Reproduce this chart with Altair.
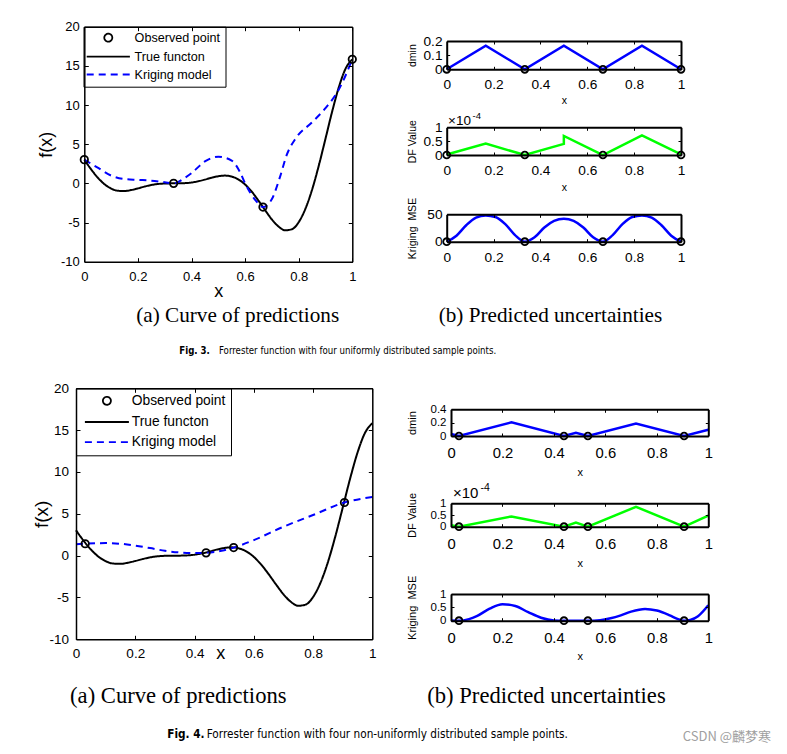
import altair as alt
import pandas as pd

W, H = 771, 738
SANS = "Liberation Sans, Arial, Helvetica, sans-serif"
SERIF = "Liberation Serif, Times New Roman, serif"
NARROW = "Liberation Sans Narrow, DejaVu Sans Condensed, Roboto Condensed, Liberation Sans, sans-serif"
CJK = "Noto Sans CJK SC, sans-serif"

# ---------------- data ----------------
SERIES = ["Observed point", "True functon", "Kriging model"]

TRUE_X = [0.0, 0.025, 0.05, 0.075, 0.1, 0.125, 0.15, 0.175, 0.2, 0.225, 0.25, 0.275,
          0.3, 0.325, 0.35, 0.375, 0.4, 0.425, 0.45, 0.475, 0.5, 0.525, 0.55, 0.575,
          0.6, 0.625, 0.65, 0.675, 0.7, 0.725, 0.75, 0.775, 0.8, 0.825, 0.85, 0.875,
          0.9, 0.925, 0.95, 0.975, 1.0]
TRUE_Y = [3.03, 1.81, 0.74, -0.10, -0.66, -0.94, -0.98, -0.85, -0.64, -0.41, -0.21, -0.08,
          -0.02, 0.00, 0.00, 0.03, 0.11, 0.27, 0.48, 0.72, 0.91, 0.99, 0.87, 0.50,
          -0.15, -1.07, -2.21, -3.44, -4.61, -5.52, -5.99, -5.85, -4.95, -3.25, -0.80, 2.27,
          5.71, 9.19, 12.30, 14.65, 15.83]

KRIG3_X = [0.0, 0.05, 0.1, 0.15, 0.2, 0.25, 0.3, 0.3333, 0.375, 0.4, 0.45, 0.5, 0.55,
           0.58, 0.6, 0.64, 0.6667, 0.7, 0.73, 0.755, 0.79, 0.85, 0.9, 0.95, 1.0]
KRIG3_Y = [3.03, 2.0, 1.0, 0.55, 0.45, 0.35, 0.15, 0.0, 0.7, 1.3, 2.8, 3.4, 2.9,
           1.5, 0.0, -2.2, -3.03, -2.0, 0.8, 3.6, 5.8, 7.8, 9.6, 12.0, 15.83]
PTS3_X = [0.0, 0.3333, 0.6667, 1.0]
PTS3_Y = [3.03, 0.0, -3.03, 15.83]

KRIG4_X = [0.0, 0.031, 0.1, 0.15, 0.2, 0.25, 0.3, 0.35, 0.4, 0.439, 0.5, 0.532,
           0.6, 0.7, 0.8, 0.906, 1.0]
KRIG4_Y = [1.36, 1.42, 1.5, 1.42, 1.2, 0.9, 0.58, 0.38, 0.3, 0.33, 0.65, 0.96,
           1.85, 3.45, 4.85, 6.35, 7.0]
PTS4_X = [0.031, 0.439, 0.532, 0.906]
PTS4_Y = [1.42, 0.33, 0.96, 6.35]

DMIN3_X = [0.0, 0.1667, 0.3333, 0.5, 0.6667, 0.8333, 1.0]
DMIN3_Y = [0.0, 0.1667, 0.0, 0.1667, 0.0, 0.1667, 0.0]
DF3_X = [0.0, 0.1667, 0.3333, 0.5, 0.5, 0.6667, 0.8333, 1.0]
DF3_Y = [0.02, 0.41, 0.0, 0.40, 0.69, 0.0, 0.71, 0.02]
MSE3_X = [0.0, 0.0417, 0.0833, 0.125, 0.1667, 0.2083, 0.25, 0.2917, 0.3333,
          0.375, 0.4167, 0.4583, 0.5, 0.5417, 0.5833, 0.625, 0.6667,
          0.7083, 0.75, 0.7917, 0.8333, 0.875, 0.9167, 0.9583, 1.0]
MSE3_Y = [0, 11, 30, 44, 48, 45, 32, 12, 0,
          8, 26, 38, 42, 38, 26, 8, 0,
          12, 32, 45, 48, 44, 30, 11, 0]
SAMP3_X = [0.0, 0.3333, 0.6667, 1.0]

DMIN4_X = [0.0, 0.031, 0.235, 0.439, 0.4855, 0.532, 0.719, 0.906, 1.0]
DMIN4_Y = [0.031, 0.0, 0.204, 0.0, 0.047, 0.0, 0.187, 0.0, 0.094]
DF4_Y = [0.06, 0.0, 0.44, 0.0, 0.18, 0.0, 0.85, 0.0, 0.47]
MSE4_X = [0.0, 0.031, 0.07, 0.1, 0.15, 0.2, 0.25, 0.3, 0.35, 0.4, 0.439, 0.4855,
          0.532, 0.58, 0.62, 0.66, 0.7, 0.754, 0.8, 0.85, 0.88, 0.906, 0.93, 0.96, 1.0]
MSE4_Y = [0.01, 0.0, 0.06, 0.17, 0.45, 0.62, 0.55, 0.32, 0.11, 0.01, 0.0, 0.002,
          0.0, 0.02, 0.09, 0.2, 0.34, 0.44, 0.38, 0.2, 0.07, 0.0, 0.03, 0.17, 0.58]
SAMP4_X = [0.031, 0.439, 0.532, 0.906]

X_TICKS = [0, 0.2, 0.4, 0.6, 0.8, 1]
MAIN_Y_TICKS = [-10, -5, 0, 5, 10, 15, 20]

CAPTIONS = ["(a) Curve of predictions", "(b) Predicted uncertainties"]
FIG_LABELS = ["Fig. 3.", "Fig. 4."]
FIG_TEXTS = ["Forrester function with four uniformly distributed sample points.",
             "Forrester function with four non-uniformly distributed sample points."]
WATERMARK = "CSDN @麟梦寒"
Y_TITLES = ["dmin", "DF Value", "Kriging\u00a0\u00a0MSE"]

LE = "'' + datum.value"


def axes(box, xvals, yvals, st):
    x0, x1, y0, y1 = box
    common = dict(grid=False, zindex=1, labelFlush=False, labelOverlap=False,
                  domainColor="black", tickColor="black", labelColor="black",
                  labelFont=SANS, titleFont=SANS, titleColor="black",
                  titleFontWeight="normal")
    def c(vals):
        d = dict(common)
        d["values"] = vals
        return d
    if st.get("xt"):
        xtk = dict(title=st["xt"], titleX=st["xtx"], titleY=st["xty"],
                   titleFontSize=st["xts"], titleBaseline="middle", titleAlign="center")
    else:
        xtk = dict(title=None)
    if st.get("yt"):
        ytk = dict(title=st["yt"], titleX=st["ytx"], titleY=(y0 + y1) / 2,
                   titleFontSize=st["yts"], titleBaseline="middle", titleAlign="center")
    else:
        ytk = dict(title=None)
    ax1 = alt.Axis(orient="bottom", offset=y1 - H, labelExpr=LE, labelFontSize=st["lab"],
                   labelPadding=st["xpad"], ticks=False, tickSize=0, domain=True,
                   domainWidth=st["dw"], **xtk, **c(xvals))
    ay1 = alt.Axis(orient="left", offset=-x0, labelExpr=LE,
                   labelFontSize=st.get("ylab", st["lab"]),
                   labelPadding=st["ypad"], ticks=False, tickSize=0, domain=True,
                   domainWidth=st["dw"], **ytk, **c(yvals))
    ax2 = alt.Axis(orient="top", offset=-y1, labels=False, domain=False, ticks=True,
                   tickSize=st["tick"], tickWidth=st["tw"], title=None, **c(xvals))
    ay2 = alt.Axis(orient="right", offset=x0 - W, labels=False, domain=False, ticks=True,
                   tickSize=st["tick"], tickWidth=st["tw"], title=None, **c(yvals))
    ax3 = alt.Axis(orient="bottom", offset=y0 - H, labels=False, domain=True,
                   domainWidth=st["dw"], ticks=True, tickSize=st["tick"], tickWidth=st["tw"],
                   title=None, **c(xvals))
    ay3 = alt.Axis(orient="left", offset=-x1, labels=False, domain=True,
                   domainWidth=st["dw"], ticks=True, tickSize=st["tick"], tickWidth=st["tw"],
                   title=None, **c(yvals))
    return (ax1, ay1), (ax2, ay2), (ax3, ay3)


def main_panel(box, kx, ky, px, py, st, leg, path):
    x0, x1, y0, y1 = box
    xs = alt.Scale(domain=[0, 1], range=[x0, x1], nice=False, zero=False)
    ys = alt.Scale(domain=[-10, 20], range=[y1, y0], nice=False, zero=False)
    cs = alt.Scale(domain=SERIES, range=["black", "black", "#0000ff"])
    ds = alt.Scale(domain=SERIES, range=[[1, 0], [1, 0], [7, 5]])
    ss = alt.Scale(domain=SERIES, range=["circle", path, path])
    (ax1, ay1), (ax2, ay2), (ax3, ay3) = axes(box, X_TICKS, MAIN_Y_TICKS, st)
    tdf = pd.DataFrame({"x": TRUE_X, "y": TRUE_Y, "i": range(len(TRUE_X)), "series": SERIES[1]})
    kdf = pd.DataFrame({"x": kx, "y": ky, "i": range(len(kx)), "series": SERIES[2]})
    pdf = pd.DataFrame({"x": px, "y": py, "series": SERIES[0]})
    l1 = alt.Chart(tdf).mark_line(strokeWidth=2, interpolate="monotone").encode(
        x=alt.X("x:Q", scale=xs, axis=ax1), y=alt.Y("y:Q", scale=ys, axis=ay1),
        color=alt.Color("series:N", scale=cs, legend=leg),
        strokeDash=alt.StrokeDash("series:N", scale=ds, legend=leg),
        order="i:Q")
    l2 = alt.Chart(kdf).mark_line(strokeWidth=2, interpolate="monotone").encode(
        x=alt.X("x:Q", scale=xs, axis=ax2), y=alt.Y("y:Q", scale=ys, axis=ay2),
        color=alt.Color("series:N", scale=cs, legend=leg),
        strokeDash=alt.StrokeDash("series:N", scale=ds, legend=leg),
        order="i:Q")
    l3 = alt.Chart(pdf).mark_point(filled=False, size=55, strokeWidth=1.8, opacity=1).encode(
        x=alt.X("x:Q", scale=xs, axis=ax3), y=alt.Y("y:Q", scale=ys, axis=ay3),
        color=alt.Color("series:N", scale=cs, legend=leg),
        shape=alt.Shape("series:N", scale=ss, legend=leg))
    return alt.layer(l1, l2, l3).resolve_axis(x="independent", y="independent")


def small_panel(box, lx, ly, sx, ydom, yvals, color, st, smooth=False):
    x0, x1, y0, y1 = box
    xs = alt.Scale(domain=[0, 1], range=[x0, x1], nice=False, zero=False)
    ys = alt.Scale(domain=ydom, range=[y1, y0], nice=False, zero=False)
    (ax1, ay1), (ax2, ay2), (ax3, ay3) = axes(box, X_TICKS, yvals, st)
    ldf = pd.DataFrame({"x": lx, "y": ly, "i": range(len(lx))})
    sdf = pd.DataFrame({"x": sx, "y": [0.0] * len(sx)})
    l1 = alt.Chart(ldf).mark_line(strokeWidth=2.5, color=color,
                                  interpolate="monotone" if smooth else "linear").encode(
        x=alt.X("x:Q", scale=xs, axis=ax1), y=alt.Y("y:Q", scale=ys, axis=ay1), order="i:Q")
    l2 = alt.Chart(sdf).mark_point(filled=False, size=48, strokeWidth=1.8, color="black",
                                   opacity=1).encode(
        x=alt.X("x:Q", scale=xs, axis=ax2), y=alt.Y("y:Q", scale=ys, axis=ay2))
    l3 = alt.Chart(sdf).mark_point(opacity=0).encode(
        x=alt.X("x:Q", scale=xs, axis=ax3), y=alt.Y("y:Q", scale=ys, axis=ay3))
    return alt.layer(l1, l2, l3).resolve_axis(x="independent", y="independent")


def text(s, x, y, size, font, weight="normal", align="left", color="black"):
    return alt.Chart(pd.DataFrame({"t": [s]})).mark_text(
        font=font, fontSize=size, fontWeight=weight, align=align, baseline="middle",
        color=color).encode(x=alt.value(x), y=alt.value(y), text="t:N")


# ---------------- layout boxes (x0, x1, y0, y1) ----------------
B3M = (76.3, 344.3, 18.7, 253.7)
B3A = (438.7, 673.0, 33.0, 61.3)
B3B = (438.7, 673.0, 119.3, 147.0)
B3C = (438.7, 673.0, 206.3, 233.7)
B4M = (68.0, 364.3, 380.3, 631.3)
B4A = (443.0, 700.3, 401.3, 428.0)
B4B = (443.0, 700.3, 495.3, 518.7)
B4C = (443.0, 700.3, 586.0, 612.7)

st3m = dict(lab=13, xpad=9, ypad=5, tick=4, tw=1, dw=1.5,
            xt="x", xtx=(B3M[0] + B3M[1]) / 2, xty=30, xts=18,
            yt="f(x)", ytx=-38, yts=18)
st4m = dict(lab=13.5, xpad=7, ypad=7.5, tick=4, tw=1, dw=1.5,
            xt="x", xtx=212.3, xty=14, xts=18,
            yt="f(x)", ytx=-35, yts=19)

leg3 = alt.Legend(orient="none", legendX=75.5, legendY=18.7, title=None,
                  strokeColor="black", fillColor="white", padding=4.7, rowPadding=4.9,
                  symbolSize=64, symbolStrokeWidth=1.8, symbolOffset=13.8, labelOffset=20,
                  labelFont=SANS, labelFontSize=12.6, labelColor="black")
leg4 = alt.Legend(orient="none", legendX=68, legendY=380.3, title=None,
                  strokeColor="black", fillColor="white", padding=5.6, rowPadding=5.2,
                  symbolSize=64, symbolStrokeWidth=1.8, symbolOffset=18.4, labelOffset=18,
                  labelFont=SANS, labelFontSize=13.8, labelColor="black")


def sst(yt, xt, lab, xpad, ypad, ytx, xty, xtx, ts, ylab=None):
    d = dict(lab=lab, xpad=xpad, ypad=ypad, tick=3, tw=1, dw=2,
             yt=yt, ytx=ytx, yts=ts)
    if ylab:
        d["ylab"] = ylab
    if xt:
        d.update(xt="x", xtx=xtx, xty=xty, xts=ts)
    return d


c3 = (B3A[0] + B3A[1]) / 2
c4 = (B4A[0] + B4A[1]) / 2

panels = [
    main_panel(B3M, KRIG3_X, KRIG3_Y, PTS3_X, PTS3_Y, st3m, leg3, "M-5.4,0L5.4,0"),
    small_panel(B3A, DMIN3_X, DMIN3_Y, SAMP3_X, [0, 0.2], [0, 0.1, 0.2], "#0000ff",
                sst(Y_TITLES[0], True, 13.7, 8.5, 4.7, -34, 31.4, c3, 10.5)),
    small_panel(B3B, DF3_X, DF3_Y, SAMP3_X, [0, 1], [0, 0.5, 1], "#00ff00",
                sst(Y_TITLES[1], True, 13.7, 8.5, 4.7, -34, 32.7, c3, 10.5)),
    small_panel(B3C, MSE3_X, MSE3_Y, SAMP3_X, [0, 50], [0, 50], "#0000ff",
                sst(Y_TITLES[2], False, 13.7, 8.5, 4.7, -34, 0, c3, 10.5), smooth=True),
    main_panel(B4M, KRIG4_X, KRIG4_Y, PTS4_X, PTS4_Y, st4m, leg4, "M-5.5,0L5.5,0"),
    small_panel(B4A, DMIN4_X, DMIN4_Y, SAMP4_X, [0, 0.4], [0, 0.2, 0.4], "#0000ff",
                sst(Y_TITLES[0], True, 14.8, 9.5, 5, -38.5, 36, c4, 11, ylab=11.5)),
    small_panel(B4B, DMIN4_X, DF4_Y, SAMP4_X, [0, 1], [0, 0.5, 1], "#00ff00",
                sst(Y_TITLES[1], True, 14.8, 9.5, 5, -38.5, 36.5, c4, 11, ylab=11.5)),
    small_panel(B4C, MSE4_X, MSE4_Y, SAMP4_X, [0, 1], [0, 0.5, 1], "#0000ff",
                sst(Y_TITLES[2], True, 14.8, 9.5, 5, -38.5, 36, c4, 11, ylab=11.5), smooth=True),
]

texts = [
    text("×10", 440, 113, 13.5, SANS),
    text("-4", 464.5, 107.5, 9.5, SANS),
    text("×10", 445, 485.3, 15, SANS),
    text("-4", 472.5, 480, 10.5, SANS),
    text(CAPTIONS[0], 229.7, 308, 21.2, SERIF, align="center"),
    text(CAPTIONS[1], 542.5, 308, 21.2, SERIF, align="center"),
    text(CAPTIONS[0], 170.3, 688, 22.6, SERIF, align="center"),
    text(CAPTIONS[1], 538.5, 688, 22.6, SERIF, align="center"),
    text(FIG_LABELS[0], 171.3, 342.7, 9.6, NARROW, weight="bold"),
    text(FIG_TEXTS[0], 211, 342.7, 9.6, NARROW),
    text(FIG_LABELS[1], 159.3, 725.7, 11.7, NARROW, weight="bold"),
    text(FIG_TEXTS[1], 198.7, 725.7, 11.7, NARROW),
    text(WATERMARK, 763, 729, 13, CJK, align="right", color="#a0a0a0"),
]

chart = alt.layer(*panels, *texts).properties(
    width=W, height=H, padding=0,
    autosize=alt.AutoSizeParams(type="none"),
).resolve_scale(
    x="independent", y="independent", color="independent",
    shape="independent", strokeDash="independent",
).configure_view(strokeWidth=0).configure_axis(grid=False)

chart.save("out.html", embed_options={"renderer": "svg", "actions": False})
